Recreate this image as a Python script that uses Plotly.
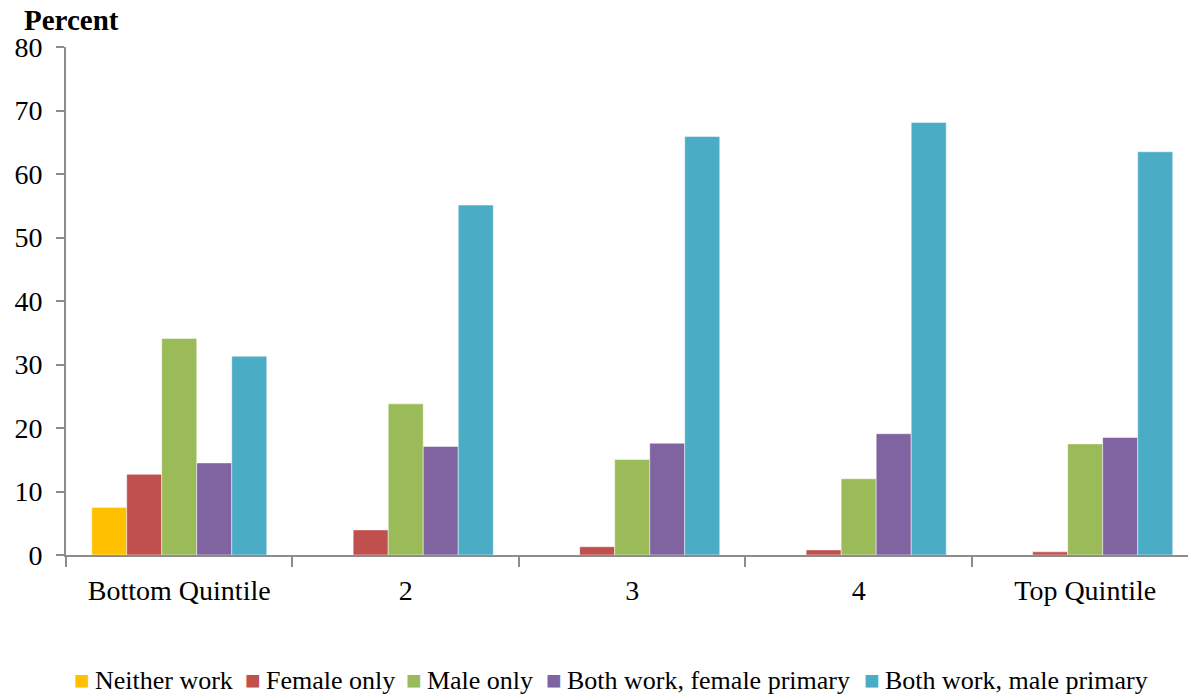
import plotly.graph_objects as go

categories = ["Bottom Quintile", "2", "3", "4", "Top Quintile"]
neither_work = [7.5, 0, 0, 0, 0]
female_only = [12.7, 3.95, 1.3, 0.8, 0.5]
male_only = [34.1, 23.8, 15.05, 12.0, 17.5]
both_female_primary = [14.5, 17.1, 17.6, 19.1, 18.5]
both_male_primary = [31.3, 55.1, 65.9, 68.1, 63.5]

series_names = ["Neither work", "Female only", "Male only",
                "Both work, female primary", "Both work, male primary"]
series_values = [neither_work, female_only, male_only,
                 both_female_primary, both_male_primary]
series_colors = ["#FFC000", "#C0504D", "#9BBB59", "#8064A2", "#4BACC6"]

FONT = "Liberation Serif"
OFF = 8  # page body margin
W, H = 1180, 690
L, R, T = 66 - OFF, 0, 47 - OFF
B = H - (555 - OFF)
PW, PH = W - L - R, H - T - B

fig = go.Figure()
for name, vals, color in zip(series_names, series_values, series_colors):
    fig.add_trace(go.Bar(
        x=categories, y=vals, name=name, showlegend=False,
        marker=dict(color=color, line=dict(color="rgba(255,255,255,0.6)", width=0.8)),
    ))

def px_x(p):
    return (p - OFF - L) / PW

def px_y(p):
    return (H - B - (p - OFF)) / PH

# legend drawn as text entries (colored square glyph + label)
legend_starts = [73, 244, 405, 545, 863]
annotations = []
for name, color, xs in zip(series_names, series_colors, legend_starts):
    annotations.append(dict(
        text=f"<span style='color:{color}'>■</span>\u2009{name}",
        xref="paper", yref="paper", x=px_x(xs), y=px_y(680),
        xanchor="left", yanchor="middle", showarrow=False,
        font=dict(size=26, family=FONT, color="black"), borderpad=0,
    ))
annotations.append(dict(
    text="<b>Percent</b>", xref="paper", yref="paper",
    x=px_x(23), y=px_y(20), xanchor="left", yanchor="middle",
    showarrow=False, font=dict(size=29, family=FONT, color="black"), borderpad=0,
))

fig.update_layout(
    width=W, height=H,
    barmode="group", bargap=0.227, bargroupgap=0,
    plot_bgcolor="white", paper_bgcolor="white",
    margin=dict(l=L, r=R, t=T, b=B, autoexpand=False),
    font=dict(family=FONT, size=28, color="black"),
    showlegend=False,
    annotations=annotations,
)

fig.update_xaxes(
    type="category", range=[-0.5, 4.454], automargin=False,
    showline=True, linecolor="#8C8C8C", linewidth=2,
    ticks="outside", tickson="boundaries", ticklen=10, tickcolor="#8C8C8C", tickwidth=2,
    showgrid=False, zeroline=False, ticklabelstandoff=9,
    tickfont=dict(size=28, family=FONT, color="black"),
)
fig.update_yaxes(
    range=[0, 80], dtick=10, automargin=False,
    showline=True, linecolor="#8C8C8C", linewidth=2,
    ticks="outside", ticklen=8, tickcolor="#8C8C8C", tickwidth=2,
    showgrid=False, zeroline=False, ticklabelstandoff=8,
    tickfont=dict(size=28, family=FONT, color="black"),
)

fig.write_html("out.html")
